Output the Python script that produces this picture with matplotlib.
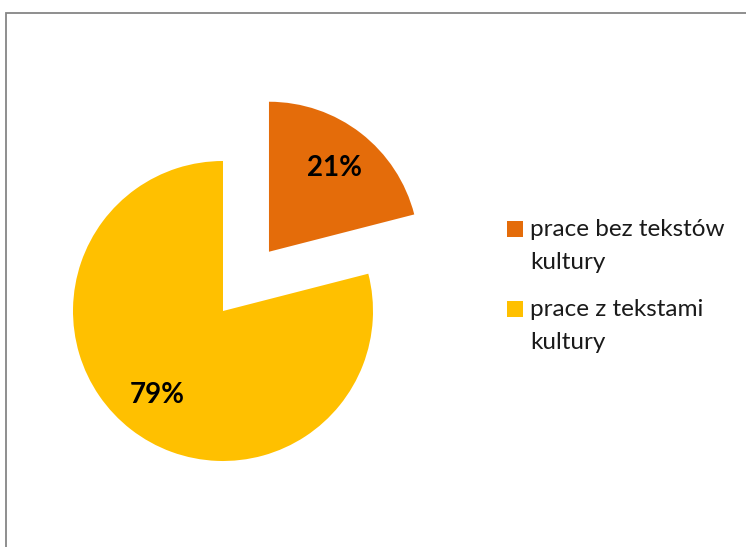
import matplotlib
matplotlib.use("Agg")
import matplotlib.pyplot as plt
from matplotlib.patches import Rectangle

categories = ["prace bez tekstów\nkultury", "prace z tekstami\nkultury"]
values = [21, 79]
colors = ["#E46C0A", "#FFC000"]

W, H = 746, 547
fig = plt.figure(figsize=(W / 100, H / 100), dpi=100)
fig.patch.set_facecolor("white")

# frame
fig.add_artist(Rectangle((6 / W, -0.05), 1.2, (H - 13) / H + 0.05, transform=fig.transFigure,
                         fill=False, edgecolor="#868686", linewidth=1.3))

cx, cy, R = 223, 311, 150
ax = fig.add_axes([0, 0, 1, 1])
ax.axis("off")

wedges, texts, autotexts = ax.pie(
    values, colors=colors, explode=[0.5, 0], startangle=90, counterclock=False,
    autopct="%d%%", pctdistance=0.71, radius=1.0, center=(0, 0),
    wedgeprops=dict(linewidth=0), textprops=dict(fontfamily="Lato", fontweight="bold",
                                                  fontsize=20, color="black"))
ax.set_xlim((0 - cx) / R, (W - cx) / R)
ax.set_ylim((cy - H) / R, cy / R)
ax.set_aspect("equal", adjustable="datalim")

# legend (square aligned with first text line, as in the original)
entry_top = [221, 301]  # pixel y of square tops
for lab, col, ytop in zip(categories, colors, entry_top):
    fig.add_artist(Rectangle((507 / W, 1 - (ytop + 15.5) / H), 15.5 / W, 15.5 / H,
                             transform=fig.transFigure, facecolor=col, edgecolor="none"))
    fig.text(530 / W, 1 - (ytop - 2) / H, lab, ha="left", va="top",
             fontfamily="Lato", fontsize=17.5, color="#1a1a1a", linespacing=1.7)

fig.savefig("out.png", dpi=100)
